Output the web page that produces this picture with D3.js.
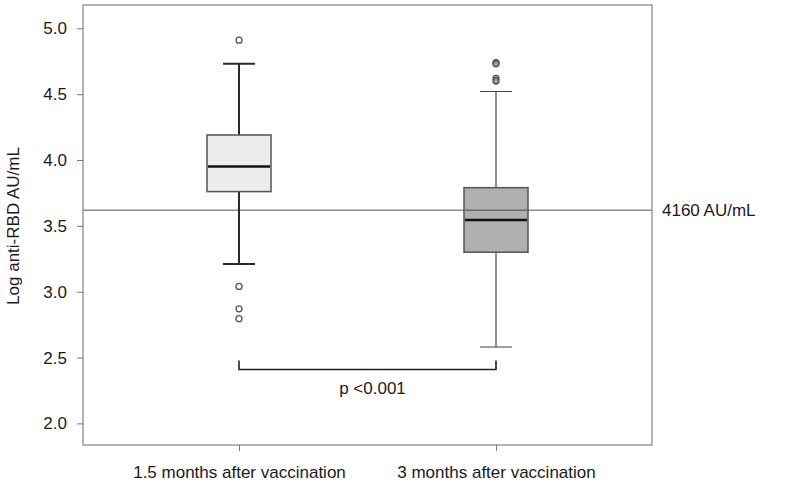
<!DOCTYPE html>
<html>
<head>
<meta charset="utf-8">
<script src="https://cdn.jsdelivr.net/npm/d3@7"></script>
<style>
  body { margin: 0; background: #fff; }
  text { font-family: "Liberation Sans", Arial, sans-serif; fill: #1a1a1a; }
</style>
</head>
<body>
<svg width="788" height="489"></svg>
<script>
// data (log10 anti-RBD AU/mL)
let groups = ['1.5 months after vaccination', '3 months after vaccination'];
let q1 = [3.76, 3.30];
let median = [3.95, 3.545];
let q3 = [4.19, 3.79];
let whiskLow = [3.21, 2.58];
let whiskHigh = [4.73, 4.52];
let outliers = [[4.91, 3.04, 2.87, 2.795], [4.74, 4.73, 4.62, 4.60]];
let yTicks = [2.0, 2.5, 3.0, 3.5, 4.0, 4.5, 5.0];
let refValue = Math.log10(4160);
let refLabel = '4160 AU/mL';
let pLabel = 'p <0.001';

let svg = d3.select('svg');
let padLeft = 83, padRight = 652, padTop = 5, padBottom = 445;
let fs = 17;

let xScale = d3.scalePoint()
    .domain(groups)
    .range([padLeft, padRight])
    .padding(0.607);

let yScale = d3.scaleLinear()
    .domain([1.836, 5.177])
    .range([padBottom, padTop]);

let boxFill = ['#ececec', '#b0b0b0'];
let whiskWidth = [2, 1.2];
let whiskColor = ['#2b2b2b', '#444'];

// frame
svg.append('rect')
    .attr('x', padLeft).attr('y', padTop)
    .attr('width', padRight - padLeft).attr('height', padBottom - padTop)
    .attr('fill', 'none').attr('stroke', '#8c8c8c').attr('stroke-width', 1.3);

// y axis
let yAxis = d3.axisLeft(yScale).tickValues(yTicks).tickFormat(d3.format('.1f')).tickSize(6).tickPadding(10);
let gy = svg.append('g').attr('transform', 'translate(' + padLeft + ',0)').call(yAxis);
gy.select('.domain').remove();
gy.selectAll('line').attr('stroke', '#777');
gy.selectAll('text').attr('font-size', fs).style('fill', '#1a1a1a');

// x axis
let xAxis = d3.axisBottom(xScale).tickSize(6).tickPadding(15);
let gx = svg.append('g').attr('transform', 'translate(0,' + padBottom + ')').call(xAxis);
gx.select('.domain').remove();
gx.selectAll('line').attr('stroke', '#777');
gx.selectAll('text').attr('font-size', fs).style('fill', '#1a1a1a');

// y title
svg.append('text')
    .attr('transform', 'translate(19,' + 226 + ') rotate(-90)')
    .attr('text-anchor', 'middle')
    .attr('font-size', fs)
    .text('Log anti-RBD AU/mL');

// reference line
svg.append('line')
    .attr('x1', padLeft).attr('x2', padRight)
    .attr('y1', yScale(refValue)).attr('y2', yScale(refValue))
    .attr('stroke', '#8c8c8c').attr('stroke-width', 1.5);
svg.append('text')
    .attr('x', padRight + 10).attr('y', yScale(refValue))
    .attr('dy', '0.35em')
    .attr('font-size', fs)
    .text(refLabel);

let boxW = 64, capW = 32;

groups.forEach((g, i) => {
    let cx = xScale(g);
    let grp = svg.append('g');
    // whiskers
    grp.append('line')
        .attr('x1', cx).attr('x2', cx)
        .attr('y1', yScale(whiskHigh[i])).attr('y2', yScale(q3[i]))
        .attr('stroke', whiskColor[i]).attr('stroke-width', whiskWidth[i]);
    grp.append('line')
        .attr('x1', cx).attr('x2', cx)
        .attr('y1', yScale(q1[i])).attr('y2', yScale(whiskLow[i]))
        .attr('stroke', whiskColor[i]).attr('stroke-width', whiskWidth[i]);
    [whiskHigh[i], whiskLow[i]].forEach(v => {
        grp.append('line')
            .attr('x1', cx - capW / 2).attr('x2', cx + capW / 2)
            .attr('y1', yScale(v)).attr('y2', yScale(v))
            .attr('stroke', whiskColor[i]).attr('stroke-width', whiskWidth[i]);
    });
    // box
    grp.append('rect')
        .attr('x', cx - boxW / 2).attr('y', yScale(q3[i]))
        .attr('width', boxW).attr('height', yScale(q1[i]) - yScale(q3[i]))
        .attr('fill', boxFill[i])
        .attr('stroke', '#555').attr('stroke-width', 1.5);
    grp.append('line')
        .attr('x1', cx - boxW / 2 + 1).attr('x2', cx + boxW / 2 - 1)
        .attr('y1', yScale(median[i])).attr('y2', yScale(median[i]))
        .attr('stroke', '#111').attr('stroke-width', 2.5);
    // outliers
    grp.selectAll('circle')
        .data(outliers[i])
        .enter()
        .append('circle')
        .attr('cx', cx)
        .attr('cy', d => yScale(d))
        .attr('r', 3)
        .attr('fill', i == 0 ? '#fff' : '#9a9a9a')
        .attr('stroke', '#555')
        .attr('stroke-width', 1.3);
});

// ref line shows through the second box in the original
svg.append('line')
    .attr('x1', xScale(groups[1]) - boxW / 2).attr('x2', xScale(groups[1]) + boxW / 2)
    .attr('y1', yScale(refValue)).attr('y2', yScale(refValue))
    .attr('stroke', '#6a6a6a').attr('stroke-width', 1.5);

// significance bracket
let by = 369.5;
let bx1 = xScale(groups[0]), bx2 = xScale(groups[1]);
svg.append('path')
    .attr('d', 'M' + bx1 + ',' + (by - 9) + 'V' + by + 'H' + bx2 + 'V' + (by - 9))
    .attr('fill', 'none').attr('stroke', '#222').attr('stroke-width', 1.6);
svg.append('text')
    .attr('x', (bx1 + bx2) / 2 + 5).attr('y', by + 24)
    .attr('text-anchor', 'middle')
    .attr('font-size', fs)
    .text(pLabel);
</script>
</body>
</html>
